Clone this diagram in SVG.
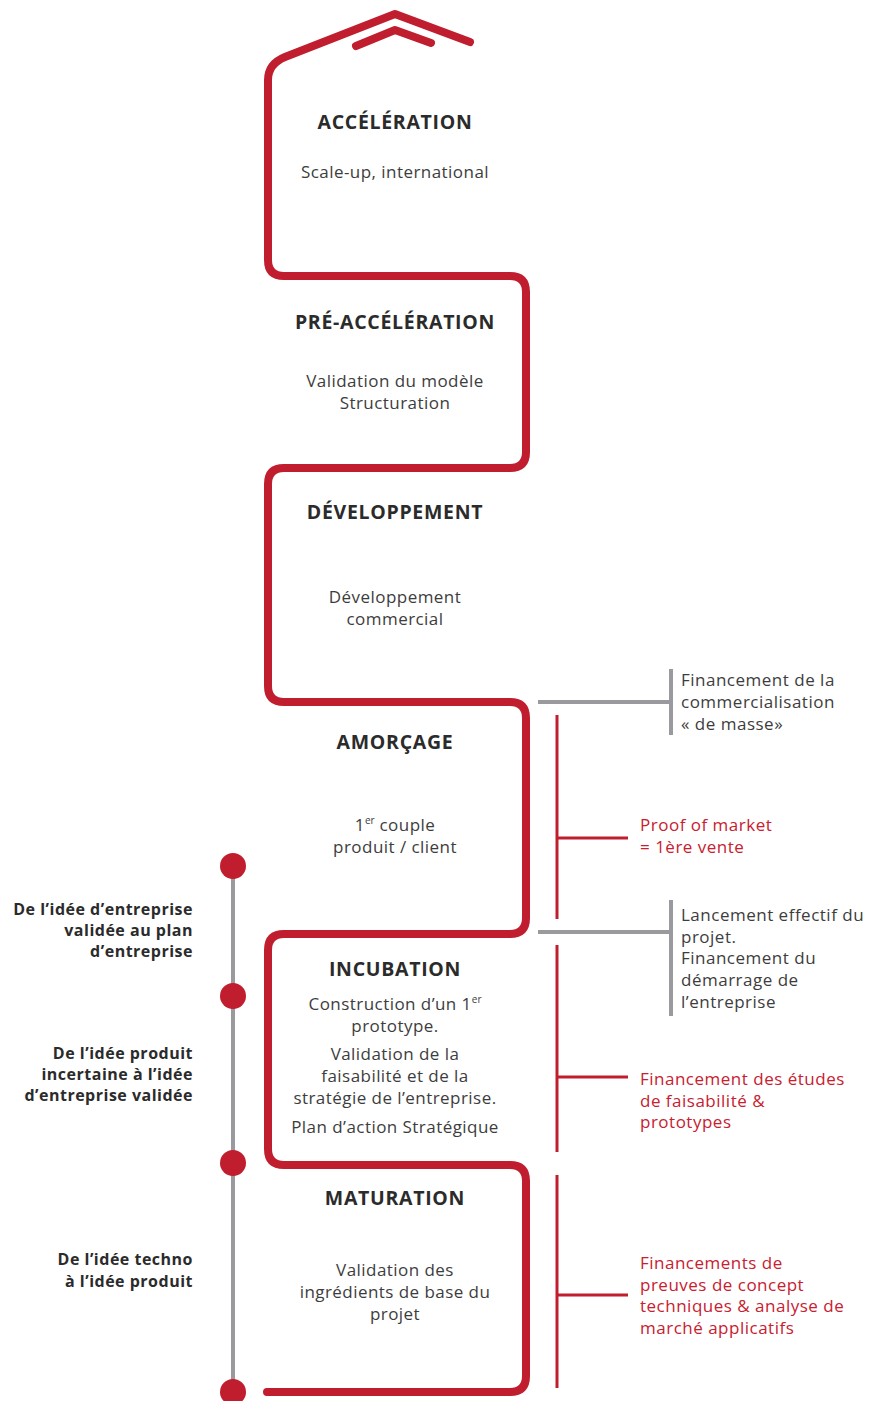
<svg xmlns="http://www.w3.org/2000/svg" width="870" height="1401" viewBox="0 0 870 1401">
  <style>
    .track { fill: none; stroke: #C01E2E; stroke-width: 8; stroke-linecap: round; stroke-linejoin: round; }
    .grey { fill: none; stroke: #9A9A9E; stroke-width: 4; stroke-linecap: butt; }
    .redline { fill: none; stroke: #C01E2E; stroke-width: 3; }
    .dot { fill: #C01E2E; }
    .title { font-family: "Open Sans", "Noto Sans", sans-serif; font-weight: 700; font-size: 19.5px; letter-spacing: 0.7px; fill: #2b2b2b; text-anchor: middle; }
    .body { font-family: "Open Sans", "Noto Sans", sans-serif; font-size: 17px; letter-spacing: 0.45px; fill: #3d3d3d; text-anchor: middle; }
    .side { font-family: "Open Sans", "Noto Sans", sans-serif; font-size: 17px; letter-spacing: 0.5px; fill: #3d3d3d; }
    .sidered { font-family: "Open Sans", "Noto Sans", sans-serif; font-size: 17px; letter-spacing: 0.5px; fill: #C8202F; }
    .left { font-family: "Open Sans", "Noto Sans", sans-serif; font-weight: 700; font-size: 16px; letter-spacing: 0.5px; fill: #2b2b2b; text-anchor: end; }
    .sup { font-size: 10px; letter-spacing: 0; }
  </style>

  <g id="connectors">
    <!-- winding red track, bottom to top -->
    <path class="track" d="M267,1392 H510 Q526,1392 526,1376 V1181 Q526,1165 510,1165 H284 Q268,1165 268,1149 V950 Q268,934 284,934 H510 Q526,934 526,918 V718 Q526,702 510,702 H284 Q268,702 268,686 V484 Q268,468 284,468 H510 Q526,468 526,452 V292 Q526,276 510,276 H284 Q268,276 268,260 V80 Q268,64 285,57 L395,14 L470,42"/>
    <path class="track" d="M356,46 L395,30 L431,43"/>
    <!-- grey timeline -->
    <line class="grey" x1="233" y1="866" x2="233" y2="1392"/>
    <!-- grey funding brackets -->
    <line class="grey" x1="538" y1="702" x2="671" y2="702"/>
    <line class="grey" x1="671" y1="669" x2="671" y2="735"/>
    <line class="grey" x1="538" y1="932" x2="671" y2="932"/>
    <line class="grey" x1="671" y1="900" x2="671" y2="1016"/>
    <!-- red brackets -->
    <line class="redline" x1="557" y1="715" x2="557" y2="919"/>
    <line class="redline" x1="557" y1="838" x2="628" y2="838"/>
    <line class="redline" x1="557" y1="945" x2="557" y2="1152"/>
    <line class="redline" x1="557" y1="1077" x2="628" y2="1077"/>
    <line class="redline" x1="557" y1="1175" x2="557" y2="1388"/>
    <line class="redline" x1="557" y1="1295" x2="628" y2="1295"/>
  </g>

  <g id="dots">
    <circle class="dot" cx="233" cy="866" r="13"/>
    <circle class="dot" cx="233" cy="996" r="13"/>
    <circle class="dot" cx="233" cy="1163" r="13"/>
    <circle class="dot" cx="233" cy="1392" r="13"/>
  </g>

  <g id="acceleration">
    <text class="title" x="395" y="129">ACCÉLÉRATION</text>
    <text class="body" x="395" y="178">Scale-up, international</text>
  </g>

  <g id="pre-acceleration">
    <text class="title" x="395" y="329">PRÉ-ACCÉLÉRATION</text>
    <text class="body" x="395" y="387">Validation du modèle</text>
    <text class="body" x="395" y="409">Structuration</text>
  </g>

  <g id="developpement">
    <text class="title" x="395" y="519">DÉVELOPPEMENT</text>
    <text class="body" x="395" y="603">Développement</text>
    <text class="body" x="395" y="625">commercial</text>
  </g>

  <g id="amorcage">
    <text class="title" x="395" y="749">AMORÇAGE</text>
    <text class="body" x="395" y="831">1<tspan class="sup" dy="-7">er</tspan><tspan dy="7"> couple</tspan></text>
    <text class="body" x="395" y="853">produit / client</text>
  </g>

  <g id="incubation">
    <text class="title" x="395" y="976">INCUBATION</text>
    <text class="body" x="395" y="1010">Construction d’un 1<tspan class="sup" dy="-7">er</tspan></text>
    <text class="body" x="395" y="1032">prototype.</text>
    <text class="body" x="395" y="1060">Validation de la</text>
    <text class="body" x="395" y="1082">faisabilité et de la</text>
    <text class="body" x="395" y="1104">stratégie de l’entreprise.</text>
    <text class="body" x="395" y="1133">Plan d’action Stratégique</text>
  </g>

  <g id="maturation">
    <text class="title" x="395" y="1205">MATURATION</text>
    <text class="body" x="395" y="1276">Validation des</text>
    <text class="body" x="395" y="1298">ingrédients de base du</text>
    <text class="body" x="395" y="1320">projet</text>
  </g>

  <g id="funding-mass">
    <text class="side" x="681" y="686">Financement de la</text>
    <text class="side" x="681" y="708">commercialisation</text>
    <text class="side" x="681" y="730">« de masse»</text>
  </g>

  <g id="proof-of-market">
    <text class="sidered" x="640" y="831">Proof of market</text>
    <text class="sidered" x="640" y="853">= 1ère vente</text>
  </g>

  <g id="launch">
    <text class="side" x="681" y="921">Lancement effectif du</text>
    <text class="side" x="681" y="943">projet.</text>
    <text class="side" x="681" y="964">Financement du</text>
    <text class="side" x="681" y="986">démarrage de</text>
    <text class="side" x="681" y="1008">l’entreprise</text>
  </g>

  <g id="feasibility">
    <text class="sidered" x="640" y="1085">Financement des études</text>
    <text class="sidered" x="640" y="1107">de faisabilité &amp;</text>
    <text class="sidered" x="640" y="1128">prototypes</text>
  </g>

  <g id="proof-of-concept">
    <text class="sidered" x="640" y="1269">Financements de</text>
    <text class="sidered" x="640" y="1291">preuves de concept</text>
    <text class="sidered" x="640" y="1312">techniques &amp; analyse de</text>
    <text class="sidered" x="640" y="1334">marché applicatifs</text>
  </g>

  <g id="idea-business">
    <text class="left" x="193" y="915">De l’idée d’entreprise</text>
    <text class="left" x="193" y="936">validée au plan</text>
    <text class="left" x="193" y="957">d’entreprise</text>
  </g>

  <g id="idea-product">
    <text class="left" x="193" y="1059">De l’idée produit</text>
    <text class="left" x="193" y="1080">incertaine à l’idée</text>
    <text class="left" x="193" y="1101">d’entreprise validée</text>
  </g>

  <g id="idea-techno">
    <text class="left" x="193" y="1265">De l’idée techno</text>
    <text class="left" x="193" y="1287">à l’idée produit</text>
  </g>
</svg>
